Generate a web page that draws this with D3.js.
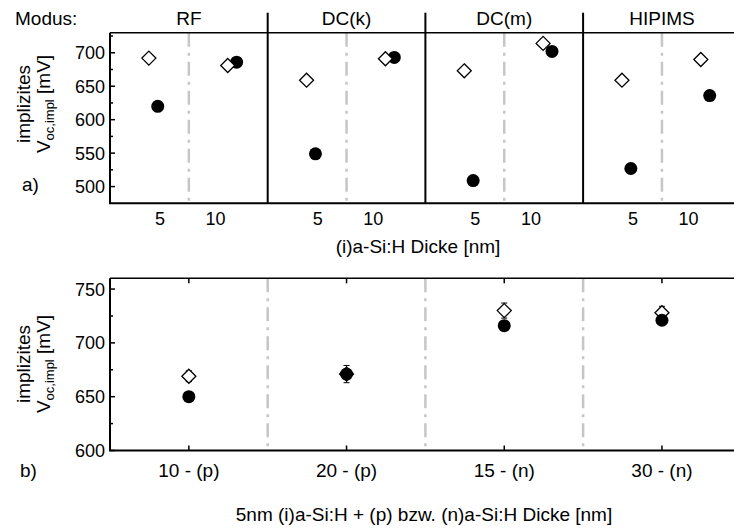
<!DOCTYPE html>
<html>
<head>
<meta charset="utf-8">
<script src="https://cdn.jsdelivr.net/npm/d3@7"></script>
<style>
  body { margin: 0; background: #fff; }
  svg { display: block; font-family: "Liberation Sans", Arial, sans-serif; }
  text { fill: #000; }
</style>
</head>
<body>
<svg></svg>
<script>
// panel a) - deposition modes, two (i)a-Si:H thicknesses each
const modes = ["RF", "DC(k)", "DC(m)", "HIPIMS"];
const thickTicks = [5, 10];
const diamondPos = [4.0, 11.1];   // plotted x (nm) of the open diamonds
const circlePos = [4.8, 11.9];    // plotted x (nm) of the filled circles
const diamond5 = [692, 659, 673, 659];
const diamond10 = [681, 691, 714, 690];
const circle5 = [620, 549, 509, 527];
const circle10 = [686, 693, 702, 636];
const yTicksA = [500, 550, 600, 650, 700];

// panel b) - doped layer thickness
const layers = ["10 - (p)", "20 - (p)", "15 - (n)", "30 - (n)"];
const diamondB = [669, 671, 730, 728];
const diamondErrB = [5, 8, 7, 6];
const circleB = [650, 671, 716, 721];
const yTicksB = [600, 650, 700, 750];

const width = 734, height = 529;
const svg = d3.select("svg").attr("width", width).attr("height", height);

const left = 110, secW = 157.7;
const band = d3.scaleBand().domain(modes).range([left, left + 4 * secW]).padding(0);
const local = d3.scaleLinear().domain([0.5, 14.7]).range([0, band.bandwidth()]);
const bandB = d3.scaleBand().domain(layers).range([left, left + 4 * secW]).padding(0);

const yA = d3.scaleLinear().domain([475, 730]).range([203.3, 32.7]);
const yB = d3.scaleLinear().domain([600, 760]).range([450.5, 278.3]);

const gray = "#c6c6c6";
const dash = "14,6,3,6";
const fs = 19;      // general text
const fsTick = 18;  // tick labels

function diamond(g, x, y) {
  const s = 7;
  g.append("path")
    .attr("d", `M${x},${y - s}L${x + s},${y}L${x},${y + s}L${x - s},${y}Z`)
    .attr("fill", "#fff").attr("stroke", "#000").attr("stroke-width", 1.3);
}

function yAxis(g, y, ticks, minor) {
  g.append("line").attr("x1", left).attr("x2", left)
    .attr("y1", y.range()[0]).attr("y2", y.range()[1])
    .attr("stroke", "#000").attr("stroke-width", 2);
  g.selectAll(".maj").data(ticks).join("line")
    .attr("x1", left).attr("x2", left + 5)
    .attr("y1", d => y(d)).attr("y2", d => y(d))
    .attr("stroke", "#000").attr("stroke-width", 1.5);
  g.selectAll(".mnr").data(minor).join("line")
    .attr("x1", left).attr("x2", left + 3)
    .attr("y1", d => y(d)).attr("y2", d => y(d))
    .attr("stroke", "#000").attr("stroke-width", 1.5);
  g.selectAll(".lab").data(ticks).join("text")
    .attr("x", left - 5).attr("y", d => y(d) + 6.5)
    .attr("text-anchor", "end").attr("font-size", fsTick)
    .text(d => d);
}

function yTitle(g, cy) {
  const t = g.append("g").attr("transform", `translate(0,${cy}) rotate(-90)`);
  t.append("text").attr("x", 0).attr("y", 30).attr("text-anchor", "middle")
    .attr("font-size", fs).text("implizites");
  const t2 = t.append("text").attr("x", 0).attr("y", 50).attr("text-anchor", "middle")
    .attr("font-size", fs);
  t2.append("tspan").text("V");
  t2.append("tspan").attr("font-size", 13).attr("dy", 4).text("oc,impl");
  t2.append("tspan").attr("dy", -4).text(" [mV]");
}

// ---------- panel a ----------
const a = svg.append("g");

// gray dash-dot between 5 and 10
a.selectAll(".mid").data(modes).join("line")
  .attr("x1", d => band(d) + band.bandwidth() / 2).attr("x2", d => band(d) + band.bandwidth() / 2)
  .attr("y1", yA.range()[1]).attr("y2", yA.range()[0])
  .attr("stroke", gray).attr("stroke-width", 2.5).attr("stroke-dasharray", dash);

// solid separators between modes
a.selectAll(".sep").data(modes.slice(1)).join("line")
  .attr("x1", d => band(d)).attr("x2", d => band(d))
  .attr("y1", 12.7).attr("y2", yA.range()[0])
  .attr("stroke", "#000").attr("stroke-width", 2);

a.append("line").attr("x1", left).attr("x2", width)
  .attr("y1", yA.range()[1]).attr("y2", yA.range()[1])
  .attr("stroke", "#000").attr("stroke-width", 1.5);
a.append("line").attr("x1", left - 1).attr("x2", width)
  .attr("y1", yA.range()[0]).attr("y2", yA.range()[0])
  .attr("stroke", "#000").attr("stroke-width", 2);

yAxis(a, yA, yTicksA, [525, 575, 625, 675, 725]);
yTitle(a, 104);

// mode headers
a.append("text").attr("x", 15).attr("y", 25).attr("font-size", fs).text("Modus:");
a.selectAll(".hdr").data(modes).join("text")
  .attr("x", d => band(d) + band.bandwidth() / 2)
  .attr("y", 25).attr("text-anchor", "middle").attr("font-size", fs)
  .text(d => d);

// thickness labels
modes.forEach(m => {
  a.selectAll(null).data(thickTicks).join("text")
    .attr("x", d => band(m) + local(d)).attr("y", 225)
    .attr("text-anchor", "middle").attr("font-size", fsTick)
    .text(d => d);
});

a.append("text").attr("x", 418).attr("y", 253).attr("text-anchor", "middle")
  .attr("font-size", fs).text("(i)a-Si:H Dicke [nm]");
a.append("text").attr("x", 22).attr("y", 191).attr("font-size", fs).text("a)");

// points: circles first, diamonds on top
modes.forEach((m, i) => {
  [circle5[i], circle10[i]].forEach((v, k) => {
    a.append("circle").attr("cx", band(m) + local(circlePos[k])).attr("cy", yA(v))
      .attr("r", 6.5).attr("fill", "#000");
  });
  [diamond5[i], diamond10[i]].forEach((v, k) => {
    diamond(a, band(m) + local(diamondPos[k]), yA(v));
  });
});

// ---------- panel b ----------
const b = svg.append("g");

b.selectAll(".sep").data(layers.slice(1)).join("line")
  .attr("x1", d => bandB(d)).attr("x2", d => bandB(d))
  .attr("y1", yB.range()[1]).attr("y2", yB.range()[0])
  .attr("stroke", gray).attr("stroke-width", 2.5).attr("stroke-dasharray", dash);

b.append("line").attr("x1", left).attr("x2", width)
  .attr("y1", yB.range()[1]).attr("y2", yB.range()[1])
  .attr("stroke", "#000").attr("stroke-width", 1.5);
b.append("line").attr("x1", left - 1).attr("x2", width)
  .attr("y1", yB.range()[0]).attr("y2", yB.range()[0])
  .attr("stroke", "#000").attr("stroke-width", 2);

const cx = d => bandB(d) + bandB.bandwidth() / 2;
b.selectAll(".tt").data(layers).join("line")
  .attr("x1", cx).attr("x2", cx)
  .attr("y1", yB.range()[1]).attr("y2", yB.range()[1] + 5)
  .attr("stroke", "#000").attr("stroke-width", 1.5);
b.selectAll(".bt").data(layers).join("line")
  .attr("x1", cx).attr("x2", cx)
  .attr("y1", yB.range()[0]).attr("y2", yB.range()[0] - 5)
  .attr("stroke", "#000").attr("stroke-width", 1.5);

yAxis(b, yB, yTicksB, [625, 675, 725]);
yTitle(b, 364);

b.selectAll(".cat").data(layers).join("text")
  .attr("x", cx).attr("y", 477).attr("text-anchor", "middle")
  .attr("font-size", fs).text(d => d);

b.append("text").attr("x", 424).attr("y", 521).attr("text-anchor", "middle")
  .attr("font-size", fs).text("5nm (i)a-Si:H + (p) bzw. (n)a-Si:H Dicke [nm]");
b.append("text").attr("x", 20).attr("y", 477).attr("font-size", fs).text("b)");

// error bars + diamonds, then circles on top
layers.forEach((l, i) => {
  const x = cx(l);
  const lo = yB(diamondB[i] - diamondErrB[i]), hi = yB(diamondB[i] + diamondErrB[i]);
  b.append("line").attr("x1", x).attr("x2", x).attr("y1", lo).attr("y2", hi)
    .attr("stroke", "#000").attr("stroke-width", 1);
  [lo, hi].forEach(yy => b.append("line").attr("x1", x - 3).attr("x2", x + 3)
    .attr("y1", yy).attr("y2", yy).attr("stroke", "#000").attr("stroke-width", 1));
  diamond(b, x, yB(diamondB[i]));
  b.append("circle").attr("cx", x).attr("cy", yB(circleB[i])).attr("r", 6.5).attr("fill", "#000");
});
</script>
</body>
</html>
